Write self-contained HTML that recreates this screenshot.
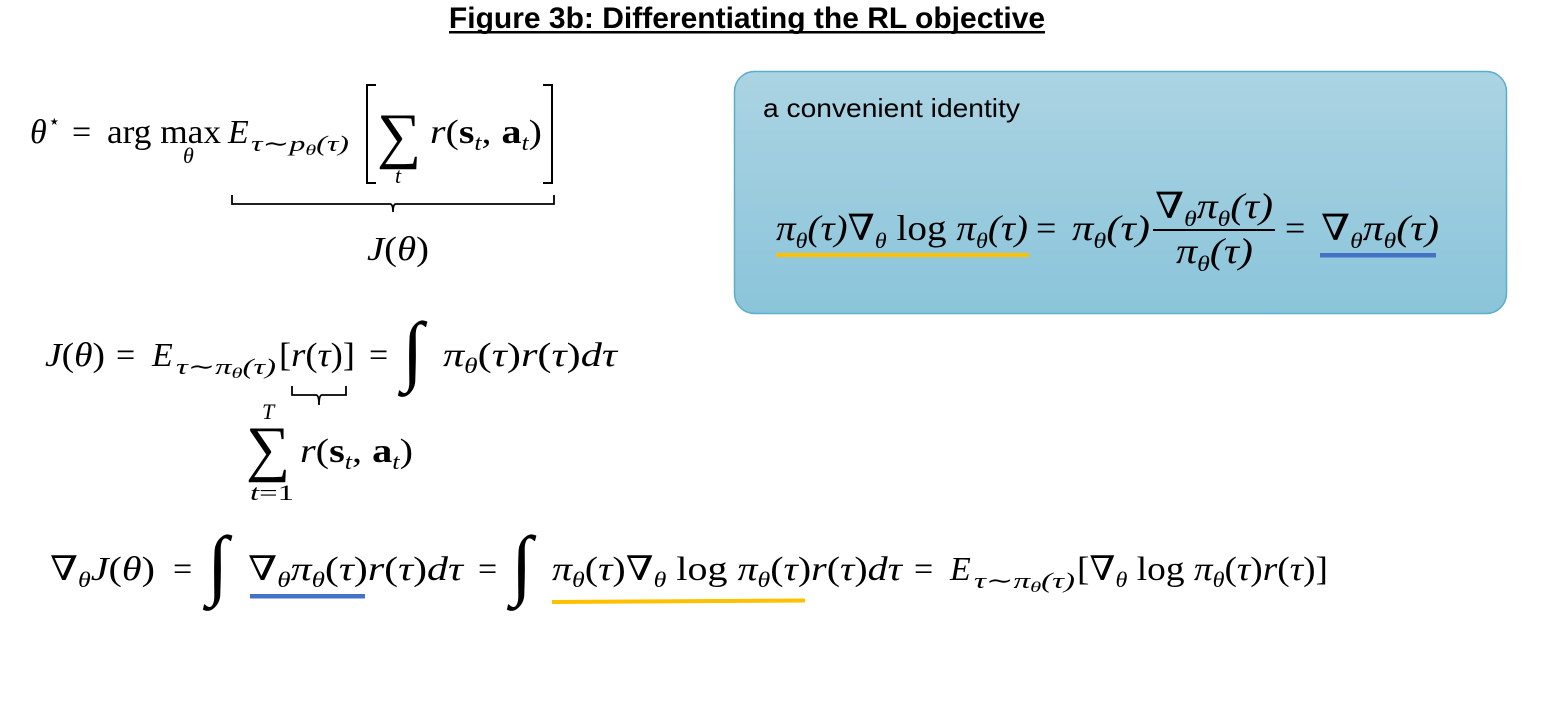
<!DOCTYPE html>
<html><head><meta charset="utf-8">
<style>
html,body{margin:0;padding:0;background:#fff;}
svg text{font-family:"Liberation Serif","DejaVu Serif",serif;fill:#000;}
.i{font-style:italic;}
</style></head>
<body>
<svg width="1545" height="711" viewBox="0 0 1545 711" xmlns="http://www.w3.org/2000/svg">
<defs>
<linearGradient id="bg" x1="0" y1="0" x2="0" y2="1">
<stop offset="0" stop-color="#abd4e3"/><stop offset="1" stop-color="#8bc4da"/>
</linearGradient>
</defs>

<g>
<text x="747" y="28" font-size="30" font-weight="bold" text-anchor="middle" style="font-family:'Liberation Sans',sans-serif">Figure 3b: Differentiating the RL objective</text>
<rect x="449" y="31" width="596" height="2.5" fill="#000"/>
</g>

<g>
<rect x="734.5" y="71.5" width="772" height="242" rx="20" fill="url(#bg)" stroke="#5aaecb" stroke-width="1.5"/>
<text x="763" y="117" font-size="26" style="font-family:'Liberation Sans',sans-serif" textLength="257" lengthAdjust="spacingAndGlyphs">a convenient identity</text>
<g>
<text class="i" x="776" y="240" font-size="36" textLength="252" lengthAdjust="spacingAndGlyphs">π<tspan font-size="22" dy="8">θ</tspan><tspan dy="-8">(τ)∇</tspan><tspan font-size="22" dy="8">θ</tspan><tspan dy="-8" font-style="normal"> log </tspan>π<tspan font-size="22" dy="8">θ</tspan><tspan dy="-8">(τ)</tspan></text>
<text x="1036" y="240" font-size="36">=</text>
<text class="i" x="1072" y="240" font-size="36" textLength="78" lengthAdjust="spacingAndGlyphs">π<tspan font-size="22" dy="8">θ</tspan><tspan dy="-8">(τ)</tspan></text>
<text class="i" x="1155" y="218" font-size="36" textLength="118" lengthAdjust="spacingAndGlyphs">∇<tspan font-size="22" dy="8">θ</tspan><tspan dy="-8">π</tspan><tspan font-size="22" dy="8">θ</tspan><tspan dy="-8">(τ)</tspan></text>
<rect x="1153" y="229" width="122" height="2" fill="#000"/>
<text class="i" x="1176" y="263" font-size="36" textLength="77" lengthAdjust="spacingAndGlyphs">π<tspan font-size="22" dy="8">θ</tspan><tspan dy="-8">(τ)</tspan></text>
<text x="1285" y="240" font-size="36">=</text>
<text class="i" x="1321" y="240" font-size="36" textLength="118" lengthAdjust="spacingAndGlyphs">∇<tspan font-size="22" dy="8">θ</tspan><tspan dy="-8">π</tspan><tspan font-size="22" dy="8">θ</tspan><tspan dy="-8">(τ)</tspan></text>
</g>
<rect x="776" y="253" width="253" height="4" fill="#ffc000"/>
<rect x="1320" y="253" width="116" height="4.5" fill="#4472c4"/>
</g>

<g>
<text class="i" x="30" y="143" font-size="34">θ</text>
<text x="48" y="128" font-size="20">⋆</text>
<text x="72" y="143" font-size="34">=</text>
<text x="107" y="143" font-size="34" textLength="114" lengthAdjust="spacingAndGlyphs">arg max</text>
<text class="i" x="183" y="163" font-size="22">θ</text>
<text class="i" x="228" y="143" font-size="34">E</text>
<text class="i" x="251" y="151" font-size="22" textLength="98" lengthAdjust="spacingAndGlyphs">τ∼p<tspan font-size="15" dy="4">θ</tspan><tspan dy="-4">(τ)</tspan></text>
<path d="M376 85 H367 V183 H376 M543 85 H552 V183 H543" fill="none" stroke="#000" stroke-width="2"/>
<text x="377" y="156" font-size="62">∑</text>
<text class="i" x="395" y="183" font-size="22">t</text>
<text class="i" x="430" y="143" font-size="34" textLength="112" lengthAdjust="spacingAndGlyphs">r<tspan font-style="normal">(</tspan><tspan font-style="normal" font-weight="bold">s</tspan><tspan font-size="22" dy="7">t</tspan><tspan dy="-7" font-style="normal">, </tspan><tspan font-style="normal" font-weight="bold">a</tspan><tspan font-size="22" dy="7">t</tspan><tspan dy="-7" font-style="normal">)</tspan></text>
<path d="M232 195 V204 H390 Q393 204 393 212 Q393 204 396 204 H554 V195" fill="none" stroke="#000" stroke-width="1.8"/>
<text class="i" x="367" y="260" font-size="34" textLength="62" lengthAdjust="spacingAndGlyphs">J<tspan font-style="normal">(</tspan>θ<tspan font-style="normal">)</tspan></text>
</g>

<g>
<text class="i" x="45" y="366" font-size="34" textLength="60" lengthAdjust="spacingAndGlyphs">J<tspan font-style="normal">(</tspan>θ<tspan font-style="normal">)</tspan></text>
<text x="116" y="366" font-size="34">=</text>
<text class="i" x="152" y="366" font-size="34">E</text>
<text class="i" x="176" y="374" font-size="22" textLength="100" lengthAdjust="spacingAndGlyphs">τ∼π<tspan font-size="15" dy="4">θ</tspan><tspan dy="-4">(τ)</tspan></text>
<text class="i" x="279" y="366" font-size="34" textLength="76" lengthAdjust="spacingAndGlyphs"><tspan font-style="normal">[</tspan>r<tspan font-style="normal">(</tspan>τ<tspan font-style="normal">)]</tspan></text>
<text x="369" y="366" font-size="34">=</text>
<text class="i" x="402" y="376" font-size="78">∫</text>
<text class="i" x="443" y="366" font-size="34" textLength="174" lengthAdjust="spacingAndGlyphs">π<tspan font-size="22" dy="7">θ</tspan><tspan dy="-7" font-style="normal">(</tspan>τ<tspan font-style="normal">)</tspan>r<tspan font-style="normal">(</tspan>τ<tspan font-style="normal">)</tspan>dτ</text>
<path d="M292 386 V395 H316 Q319 395 319 405 Q319 395 322 395 H346 V386" fill="none" stroke="#000" stroke-width="1.8"/>
<text class="i" x="262" y="419" font-size="22">T</text>
<text x="246" y="469" font-size="62">∑</text>
<text class="i" x="250" y="500" font-size="22" textLength="44" lengthAdjust="spacingAndGlyphs">t<tspan font-style="normal">=1</tspan></text>
<text class="i" x="300" y="462" font-size="34" textLength="113" lengthAdjust="spacingAndGlyphs">r<tspan font-style="normal">(</tspan><tspan font-style="normal" font-weight="bold">s</tspan><tspan font-size="22" dy="7">t</tspan><tspan dy="-7" font-style="normal">, </tspan><tspan font-style="normal" font-weight="bold">a</tspan><tspan font-size="22" dy="7">t</tspan><tspan dy="-7" font-style="normal">)</tspan></text>
</g>

<g>
<text class="i" x="50" y="580" font-size="34" textLength="105" lengthAdjust="spacingAndGlyphs">∇<tspan font-size="22" dy="7">θ</tspan><tspan dy="-7">J</tspan><tspan font-style="normal">(</tspan>θ<tspan font-style="normal">)</tspan></text>
<text x="173" y="580" font-size="34">=</text>
<text class="i" x="207" y="590" font-size="78">∫</text>
<text class="i" x="248" y="580" font-size="34" textLength="215" lengthAdjust="spacingAndGlyphs">∇<tspan font-size="22" dy="7">θ</tspan><tspan dy="-7">π</tspan><tspan font-size="22" dy="7">θ</tspan><tspan dy="-7" font-style="normal">(</tspan>τ<tspan font-style="normal">)</tspan>r<tspan font-style="normal">(</tspan>τ<tspan font-style="normal">)</tspan>dτ</text>
<text x="478" y="580" font-size="34">=</text>
<text class="i" x="511" y="590" font-size="78">∫</text>
<text class="i" x="552" y="580" font-size="34" textLength="350" lengthAdjust="spacingAndGlyphs">π<tspan font-size="22" dy="7">θ</tspan><tspan dy="-7" font-style="normal">(</tspan>τ<tspan font-style="normal">)</tspan>∇<tspan font-size="22" dy="7">θ</tspan><tspan dy="-7" font-style="normal"> log </tspan>π<tspan font-size="22" dy="7">θ</tspan><tspan dy="-7" font-style="normal">(</tspan>τ<tspan font-style="normal">)</tspan>r<tspan font-style="normal">(</tspan>τ<tspan font-style="normal">)</tspan>dτ</text>
<text x="914" y="580" font-size="34">=</text>
<text class="i" x="950" y="580" font-size="34">E</text>
<text class="i" x="974" y="588" font-size="22" textLength="101" lengthAdjust="spacingAndGlyphs">τ∼π<tspan font-size="15" dy="4">θ</tspan><tspan dy="-4">(τ)</tspan></text>
<text class="i" x="1077" y="580" font-size="34" textLength="251" lengthAdjust="spacingAndGlyphs"><tspan font-style="normal">[</tspan>∇<tspan font-size="22" dy="7">θ</tspan><tspan dy="-7" font-style="normal"> log </tspan>π<tspan font-size="22" dy="7">θ</tspan><tspan dy="-7" font-style="normal">(</tspan>τ<tspan font-style="normal">)</tspan>r<tspan font-style="normal">(</tspan>τ<tspan font-style="normal">)]</tspan></text>
<rect x="250" y="594" width="115" height="4.5" fill="#4472c4"/>
<path d="M552 600 L805 598.5 L805 602.5 L552 604 Z" fill="#ffc000"/>
</g>
</svg>
</body></html>
